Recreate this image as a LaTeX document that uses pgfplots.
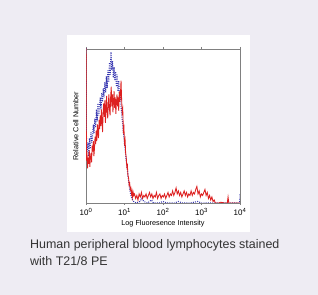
\documentclass[border=0pt]{standalone}
\usepackage{pgfplots}
\pgfplotsset{compat=1.18}
\usepackage{fontspec}
\setmainfont{Liberation Sans}
\definecolor{bgc}{HTML}{EEECF3}
\definecolor{redc}{HTML}{DD2020}
\definecolor{bluec}{HTML}{3535B0}
\definecolor{capc}{HTML}{333333}
\begin{document}
\begin{tikzpicture}
\fill[bgc] (0,0) rectangle (318bp,295bp);
\useasboundingbox (0,0) rectangle (318bp,295bp);
\fill[white] (67bp,63bp) rectangle (250bp,260bp);
\begin{axis}[at={(86bp,92bp)}, anchor=south west,
  width=154bp, height=154bp, scale only axis,
  xmin=0, xmax=4, ymin=0, ymax=102,
  xtick={0,1,2,3,4},
  xticklabels={10\textsuperscript{0},10\textsuperscript{1},10\textsuperscript{2},10\textsuperscript{3},10\textsuperscript{4}},
  ytick=\empty,
  tick align=outside, major tick length=2bp,
  tick style={gray},
  axis line style={draw=gray},
  /pgf/number format/assume math mode=true,
  ticklabel style={font=\fontsize{8}{9}\selectfont, text=black},
  label style={font=\fontsize{7.3}{8}\selectfont, text=black},
  xlabel={Log Fluoresence Intensity},
  ylabel={Relative Cell Number},
  xlabel style={yshift=2bp},
  ylabel style={yshift=2bp},
  clip=true]
\addplot[bluec, line width=1.1pt, dash pattern=on 0.9pt off 1.3pt] coordinates {
(0,120) (0.01,45) (0.03,34) (0.05,40) (0.07,31) (0.09,43) (0.11,36) (0.13,47) (0.15,40) (0.17,44) (0.19,52) (0.21,46) (0.23,56) (0.25,50) (0.27,62) (0.29,54) (0.31,66) (0.33,58) (0.35,63) (0.37,70) (0.39,62) (0.41,73) (0.43,67) (0.45,76) (0.47,70) (0.49,80) (0.51,73) (0.53,84) (0.55,76) (0.57,88) (0.59,80) (0.61,93) (0.63,85) (0.65,100) (0.67,88) (0.69,94) (0.71,83) (0.73,90) (0.75,81) (0.77,87) (0.79,77) (0.81,85) (0.83,74) (0.85,81) (0.87,70) (0.89,75) (0.91,64) (0.93,58) (0.95,53) (0.97,47) (0.99,42) (1.01,37) (1.03,32) (1.05,27) (1.07,23) (1.09,18) (1.11,14) (1.13,10) (1.15,7) (1.17,5) (1.19,3) (1.21,2) (1.24,1)
(1.3,0) (1.4,1) (1.45,3) (1.5,1) (1.6,0) (1.7,2) (1.75,0) (1.9,0) (2.0,1) (2.1,0) (2.3,0) (2.4,1) (2.5,0) (2.7,0) (2.9,1) (3.0,0) (3.3,0) (3.6,0) (3.9,0) (3.99,0) (4.0,6)
};
\addplot[redc, line width=0.85pt] coordinates {
(0,120) (0.005,66) (0.012,28) (0.025,34) (0.04,23) (0.055,30) (0.07,26) (0.085,35) (0.10,24) (0.115,30) (0.13,33) (0.145,27) (0.16,38) (0.175,34) (0.19,41) (0.205,31) (0.22,36) (0.235,44) (0.25,39) (0.265,48) (0.28,41) (0.295,52) (0.31,46) (0.325,43) (0.34,55) (0.355,49) (0.37,58) (0.385,51) (0.40,62) (0.415,55) (0.43,47) (0.445,60) (0.46,66) (0.475,57) (0.49,68) (0.505,53) (0.52,63) (0.535,71) (0.55,60) (0.565,56) (0.58,66) (0.595,72) (0.61,62) (0.625,58) (0.64,70) (0.655,77) (0.67,64) (0.685,72) (0.70,60) (0.715,68) (0.73,74) (0.745,63) (0.76,70) (0.775,59) (0.79,66) (0.805,72) (0.82,64) (0.835,70) (0.85,61) (0.865,74) (0.88,67) (0.895,72) (0.91,81) (0.925,69) (0.94,60) (0.955,62) (0.97,48) (0.985,50) (1.00,40) (1.015,42) (1.03,33) (1.045,30) (1.06,24) (1.075,25) (1.09,18) (1.105,17) (1.12,12) (1.135,13) (1.15,9) (1.165,10) (1.18,6) (1.195,8) (1.21,4) (1.225,7) (1.24,5)
(1.26,6) (1.29,3) (1.32,5) (1.35,2) (1.38,6) (1.41,4) (1.44,7) (1.47,3) (1.50,5) (1.53,4) (1.56,6) (1.59,3) (1.62,5) (1.65,7) (1.68,4) (1.71,6) (1.74,3) (1.77,5) (1.80,4) (1.83,7) (1.86,3) (1.89,5) (1.92,6) (1.95,3) (1.98,5) (2.01,4) (2.04,6) (2.07,3) (2.10,5) (2.13,7) (2.16,4) (2.19,6) (2.22,5) (2.25,8) (2.28,5) (2.31,7) (2.34,10) (2.37,6) (2.40,8) (2.43,5) (2.46,7) (2.49,4) (2.52,6) (2.55,8) (2.58,5) (2.61,7) (2.64,4) (2.67,6) (2.70,5) (2.73,8) (2.76,5) (2.79,7) (2.82,6) (2.85,9) (2.88,11) (2.91,6) (2.94,8) (2.97,4) (3.00,6) (3.03,5) (3.06,7) (3.09,9) (3.12,5) (3.15,7) (3.18,3) (3.21,5) (3.24,2) (3.27,4) (3.30,1) (3.33,2) (3.36,0) (3.45,0) (3.50,0.5) (3.60,0) (3.67,0) (3.69,4) (3.71,0) (3.80,0) (3.90,0) (4.00,0)
};
\end{axis}
\node[anchor=base west, text=capc, font=\fontsize{12.5}{14}\selectfont, inner sep=0pt] at (30bp,46bp) {Human peripheral blood lymphocytes stained};
\node[anchor=base west, text=capc, font=\fontsize{12.5}{14}\selectfont, inner sep=0pt] at (30bp,30bp) {with T21/8 PE};
\end{tikzpicture}
\end{document}
